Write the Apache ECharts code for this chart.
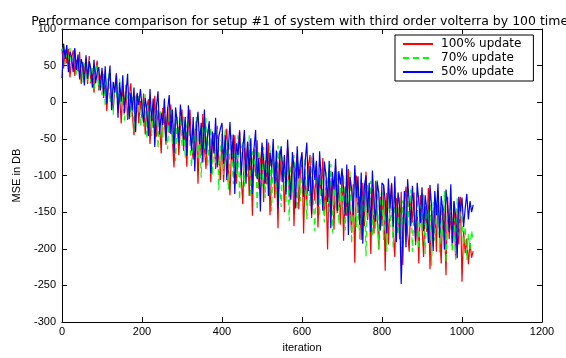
<!DOCTYPE html>
<html>
<head>
<meta charset="utf-8">
<script src="https://cdn.jsdelivr.net/npm/echarts@6/dist/echarts.min.js"></script>
<style>
html,body{margin:0;padding:0;background:#fff;}
#chart{width:566px;height:358px;}
</style>
</head>
<body>
<div id="chart"></div>
<script>
// iteration spacing between stored samples
const iterStep = 4;
const titleText = 'Performance comparison for setup #1 of system with third order volterra by 100 times';
const xTicks = [0, 200, 400, 600, 800, 1000, 1200];
const yTicks = [-300, -250, -200, -150, -100, -50, 0, 50, 100];
const seriesNames = ['100% update', '70% update', '50% update'];

const red100 = [
  73, 46, 72, 53, 73, 34, 60, 71, 36, 58, 42, 69, 25, 55, 38, 60, 25, 63, 26, 40, 13, 43, 57, 16, 34,
  42, 6, 24, -12, 29, 40, 4, -9, 19, 40, -9, 11, -29, 20, -5, 24, -24, 9, 26, -18, -45, 0, 11, -29, 2,
  -22, 12, -44, -7, 4, -57, -13, -35, 9, -47, -11, -32, -70, -8, -25, -58, -7, -42, -3, -52, -89, -25, -21, -72, -33,
  -10, -66, -32, -88, -24, -10, -61, -78, -44, -25, -111, -40, -73, -16, -63, -91, -42, -30, -109, -58, -42, -91, -32, -77, -106,
  -43, -109, -60, -36, -91, -127, -58, -84, -45, -111, -72, -38, -103, -139, -62, -86, -54, -128, -72, -155, -63, -101, -52, -118, -81,
  -60, -136, -79, -112, -55, -154, -89, -70, -131, -81, -172, -66, -108, -79, -150, -93, -61, -130, -108, -81, -169, -91, -70, -146, -97,
  -73, -179, -100, -140, -86, -72, -158, -106, -134, -85, -171, -99, -128, -76, -154, -115, -201, -94, -137, -103, -174, -87, -151, -114, -167,
  -98, -189, -115, -155, -91, -142, -178, -112, -219, -100, -151, -129, -188, -110, -169, -95, -161, -132, -207, -118, -179, -107, -151, -201, -129,
  -169, -113, -230, -124, -194, -140, -110, -180, -211, -131, -146, -187, -122, -222, -138, -115, -178, -204, -132, -164, -123, -195, -147, -220, -127,
  -126, -211, -142, -177, -117, -228, -148, -193, -134, -204, -121, -175, -220, -140, -156, -236, -129, -187, -150, -202, -135, -213, -145, -194, -129,
  -245, -176, -206, -186, -221, -192, -212, -203
];
const green70 = [
  70, 76, 52, 71, 55, 74, 47, 60, 72, 38, 56, 45, 59, 27, 53, 47, 28, 58, 28, 49, 18, 37, 51, 18, 30,
  10, 39, -6, 28, 39, 0, 19, -17, 26, 18, -11, 32, -4, 9, -25, 20, -4, 21, -20, 7, -40, 9, -15, 11, -32,
  3, -33, 11, -50, -11, 1, -46, -10, -36, 0, -63, -16, -10, -48, 3, -38, -64, -18, -11, -57, -29, -80, -18, -45, -13,
  -60, -19, -77, -33, -16, -60, -88, -30, -54, -20, -76, -40, -103, -34, -65, -21, -87, -53, -34, -100, -47, -83, -34, -120, -56,
  -48, -99, -35, -86, -119, -60, -45, -112, -70, -98, -45, -133, -63, -54, -115, -73, -102, -45, -129, -67, -95, -56, -147, -66, -94,
  -115, -61, -131, -77, -103, -59, -149, -75, -91, -126, -59, -113, -143, -74, -90, -136, -73, -162, -85, -123, -72, -110, -147, -84, -135,
  -80, -129, -75, -160, -99, -142, -73, -129, -176, -93, -111, -155, -88, -128, -164, -95, -113, -150, -84, -178, -109, -145, -94, -166, -117,
  -143, -99, -175, -112, -156, -94, -193, -124, -109, -170, -131, -187, -106, -158, -124, -210, -113, -152, -107, -183, -132, -173, -106, -201, -127,
  -123, -188, -134, -204, -117, -170, -142, -198, -113, -163, -181, -130, -212, -134, -148, -191, -125, -169, -119, -204, -145, -180, -125, -200, -140,
  -176, -126, -207, -142, -167, -120, -223, -136, -189, -151, -124, -205, -142, -185, -121, -219, -149, -177, -134, -202, -158, -215, -131, -182, -144,
  -160, -195, -170, -215, -180, -200, -175, -190
];
const blue50 = [
  33, 80, 59, 78, 41, 69, 62, 41, 74, 44, 65, 31, 59, 50, 23, 64, 32, 56, 46, 20, 58, 26, 41, 48, 16,
  47, 11, 49, -2, 25, 50, -11, 28, 13, 38, -21, 27, 1, 37, -15, 12, 39, -23, 13, -11, 20, -41, 13, -4, 18,
  18, -28, 6, -10, -46, 18, -26, 5, -61, -7, 15, -44, -15, -31, 5, -53, -11, 10, -43, -10, -69, -7, -28, -55, -3,
  -5, -51, -20, -73, -4, -40, -66, -20, -94, -35, -13, -57, -28, -82, -10, -71, -47, -26, -97, -40, -70, -21, -89, -47, -36,
  -28, -84, -45, -106, -61, -27, -78, -44, -125, -56, -72, -40, -100, -64, -38, -111, -54, -93, -49, -125, -63, -38, -105, -76, -149,
  -55, -81, -111, -50, -128, -69, -89, -50, -111, -66, -145, -78, -60, -109, -72, -126, -51, -94, -133, -68, -89, -145, -60, -104, -82,
  -68, -129, -80, -55, -121, -87, -153, -69, -106, -80, -141, -67, -106, -148, -81, -100, -136, -80, -172, -95, -119, -77, -148, -94, -112,
  -90, -119, -155, -85, -181, -102, -118, -154, -86, -130, -101, -167, -96, -193, -114, -100, -151, -110, -177, -93, -136, -163, -108, -124, -175,
  -110, -113, -134, -179, -104, -145, -112, -170, -101, -191, -123, -142, -248, -177, -121, -198, -105, -136, -169, -114, -147, -190, -110, -135, -165,
  -116, -176, -127, -147, -192, -113, -143, -203, -121, -154, -111, -185, -128, -148, -201, -119, -141, -177, -112, -192, -135, -155, -213, -129, -149,
  -130, -170, -145, -125, -160, -135, -150, -140
];

function pairs(arr) { return arr.map((v, i) => [i * iterStep, v]); }

const chart = echarts.init(document.getElementById('chart'), null, {renderer: 'canvas'});
const FONT = 'Liberation Sans, Arial, sans-serif';
const axisCommon = {
  axisLine: {show: true, onZero: false, lineStyle: {color: '#000', width: 1}},
  axisTick: {show: true, inside: true, length: 5, lineStyle: {color: '#000'}},
  splitLine: {show: false}
};
const plain = v => String(v);
chart.setOption({
  animation: false,
  backgroundColor: '#fff',
  title: {
    text: titleText,
    left: 298,
    top: 10,
    textAlign: 'center',
    textStyle: {fontFamily: 'DejaVu Sans', fontSize: 12.5, fontWeight: 'normal', color: '#000'}
  },
  legend: {
    orient: 'vertical',
    left: 395,
    top: 35,
    backgroundColor: '#fff',
    borderColor: '#000',
    borderWidth: 1,
    borderRadius: 0,
    padding: [3, 12, 3, 7],
    itemGap: 2,
    itemWidth: 30,
    itemHeight: 12,
    itemStyle: {opacity: 0, borderWidth: 0},
    data: seriesNames,
    textStyle: {fontFamily: 'DejaVu Sans', fontSize: 12, color: '#000', padding: [0, 0, 0, 3]}
  },
  grid: {left: 62, right: 24, top: 29, bottom: 32, containLabel: false},
  xAxis: [
    Object.assign({
      type: 'value', min: xTicks[0], max: xTicks[xTicks.length - 1], interval: 200,
      position: 'bottom',
      name: 'iteration', nameLocation: 'middle', nameGap: 17,
      nameTextStyle: {fontFamily: FONT, fontSize: 11, color: '#000'},
      axisLabel: {fontFamily: FONT, fontSize: 11, color: '#000', margin: 4, formatter: plain}
    }, axisCommon),
    Object.assign({
      type: 'value', min: xTicks[0], max: xTicks[xTicks.length - 1], interval: 200,
      position: 'top', axisLabel: {show: false}
    }, axisCommon)
  ],
  yAxis: [
    Object.assign({
      type: 'value', min: yTicks[0], max: yTicks[yTicks.length - 1], interval: 50,
      position: 'left',
      name: 'MSE in DB', nameLocation: 'middle', nameGap: 40,
      nameTextStyle: {fontFamily: FONT, fontSize: 11, color: '#000'},
      axisLabel: {fontFamily: FONT, fontSize: 11, color: '#000', margin: 6, formatter: plain}
    }, axisCommon),
    Object.assign({
      type: 'value', min: yTicks[0], max: yTicks[yTicks.length - 1], interval: 50,
      position: 'right', axisLabel: {show: false}
    }, axisCommon)
  ],
  series: [
    {name: seriesNames[0], type: 'line', data: pairs(red100), symbol: 'none',
     color: '#ff0000', lineStyle: {color: '#ff0000', width: 1.2}},
    {name: seriesNames[1], type: 'line', data: pairs(green70), symbol: 'none',
     color: '#00ff00', lineStyle: {color: '#00ff00', width: 1.2, type: [6, 4]}},
    {name: seriesNames[2], type: 'line', data: pairs(blue50), symbol: 'none',
     color: '#0000ff', lineStyle: {color: '#0000ff', width: 1.2}}
  ]
});
</script>
</body>
</html>
